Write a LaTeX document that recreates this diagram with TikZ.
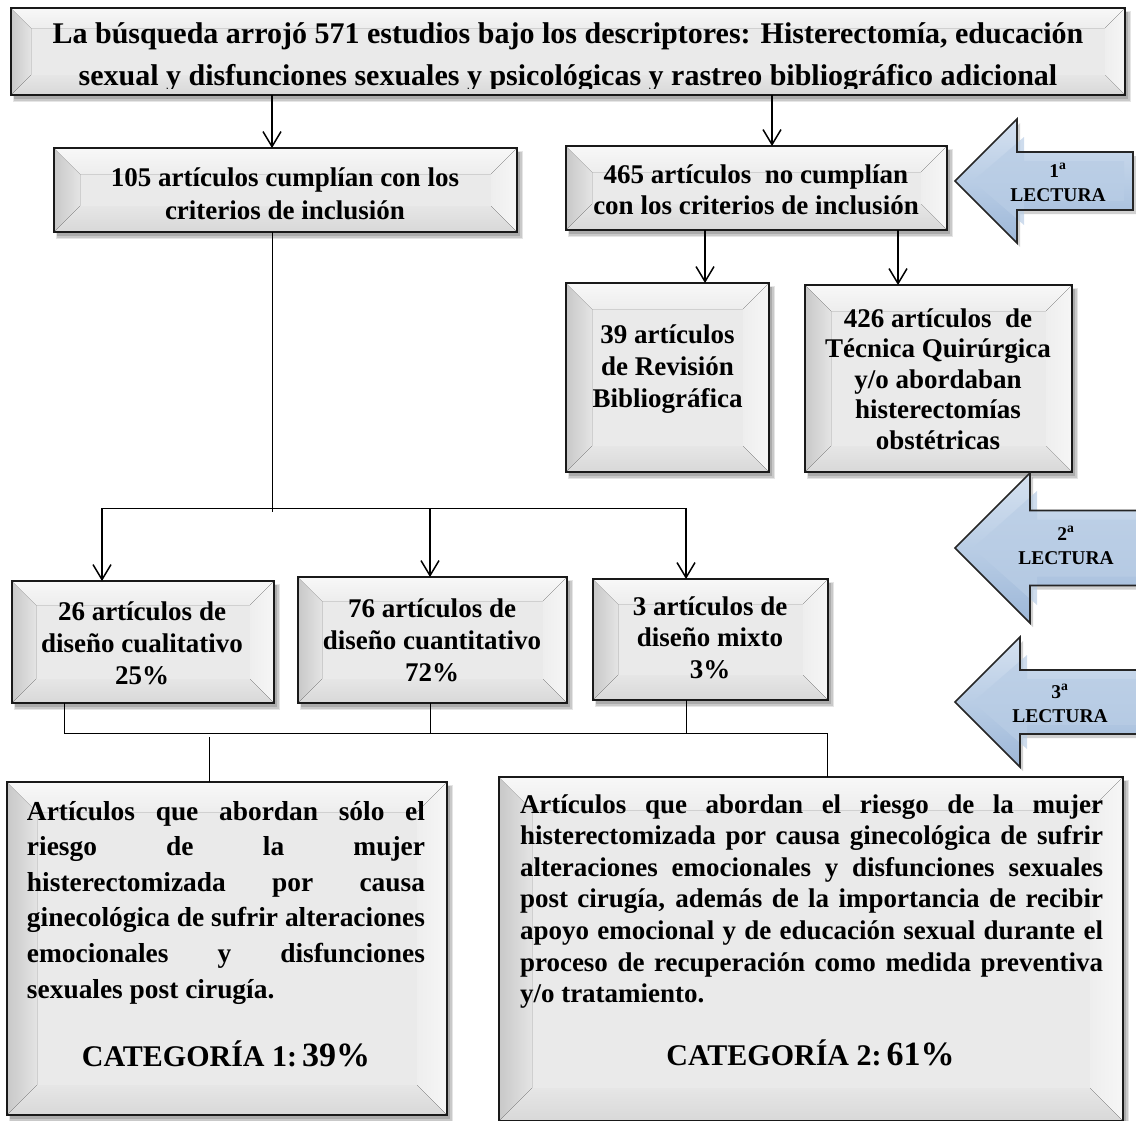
\documentclass[tikz,border=0pt]{standalone}
\usepackage{fontspec}
\setmainfont{Liberation Serif}
\usetikzlibrary{arrows.meta,fit}
\definecolor{face}{HTML}{EAEAEA}
\definecolor{bevLo}{HTML}{C8C8C8}
\definecolor{bevLi}{HTML}{E4E4E4}
\definecolor{bevTo}{HTML}{F8F8F8}
\definecolor{bevTi}{HTML}{EDEDED}
\definecolor{bevRi}{HTML}{EEEEEE}
\definecolor{bevRo}{HTML}{F6F6F6}
\definecolor{bevBi}{HTML}{E6E6E6}
\definecolor{bevBo}{HTML}{D8D8D8}
\definecolor{ablueT}{HTML}{D5E1F0}
\definecolor{ablueM}{HTML}{B9CDE5}
\definecolor{ablueB}{HTML}{9DB7D8}
\newcommand\txtlines[2]{\begin{tabular}[t]{@{}#1@{}}#2\end{tabular}}
\newcommand\jl[2]{\makebox[#1][s]{#2}}
% name, x1, y1, x2, y2, inset
\newcommand\bevbox[6]{%
  \fill[black,opacity=0.10] (#2+2,#3+3) rectangle (#4+6,#5+7);
  \fill[black,opacity=0.12] (#2+3,#3+4) rectangle (#4+4.5,#5+5.5);
  \fill[black,opacity=0.15] (#2+3,#3+4) rectangle (#4+3,#5+4);
  \fill[face] (#2,#3) rectangle (#4,#5);
  \fill[left color=bevLo, right color=bevLi] (#2,#3) -- (#2+#6,#3+#6) -- (#2+#6,#5-#6) -- (#2,#5) -- cycle;
  \fill[top color=bevTo, bottom color=bevTi] (#2,#3) -- (#4,#3) -- (#4-#6,#3+#6) -- (#2+#6,#3+#6) -- cycle;
  \fill[left color=bevRi, right color=bevRo] (#4,#3) -- (#4,#5) -- (#4-#6,#5-#6) -- (#4-#6,#3+#6) -- cycle;
  \fill[top color=bevBi, bottom color=bevBo] (#2,#5) -- (#2+#6,#5-#6) -- (#4-#6,#5-#6) -- (#4,#5) -- cycle;
  \node[boxborder, fit={(#2,#3)(#4,#5)}] (#1) {};
}
% tip x, centre y, head x, head half height, shaft half height, right x
\newcommand\larrow[6]{%
  \fill[black,opacity=0.18] (#1+3,#2+4) -- (#3+3,#2-#4+4) -- (#3+3,#2-#5+4) -- (#6+3,#2-#5+4) -- (#6+3,#2+#5+4) -- (#3+3,#2+#5+4) -- (#3+3,#2+#4+4) -- cycle;
  \fill[top color=ablueT, bottom color=ablueB, middle color=ablueM] (#1,#2) -- (#3,#2-#4) -- (#3,#2-#5) -- (#6,#2-#5) -- (#6,#2+#5) -- (#3,#2+#5) -- (#3,#2+#4) -- cycle;
  \fill[ablueM, opacity=0.7] (#1+18,#2) -- (#3+7,#2-#4+18) -- (#3+7,#2-#5+9) -- (#6-9,#2-#5+9) -- (#6-9,#2+#5-9) -- (#3+7,#2+#5-9) -- (#3+7,#2+#4-18) -- cycle;
  \draw[bluearrow] (#1,#2) -- (#3,#2-#4) -- (#3,#2-#5) -- (#6,#2-#5) -- (#6,#2+#5) -- (#3,#2+#5) -- (#3,#2+#4) -- cycle;
}
\begin{document}
\begin{tikzpicture}[x=1pt,y=-1pt,
  boxborder/.style={draw=black!90, line width=1.8pt, inner sep=0pt, outer sep=0pt},
  txt/.style={inner sep=0pt, outer sep=0pt, anchor=base, text=black},
  arr/.style={line width=1.5pt, -{Straight Barb[length=15pt,width=18pt]}},
  ln/.style={line width=1pt},
  bluearrow/.style={draw=black!85, line width=1.6pt, line join=miter},
  f27/.style={font=\fontsize{27}{#1}\selectfont\bfseries},
  lect/.style={font=\fontsize{19.5}{24}\selectfont\bfseries},
]
\useasboundingbox (0,0) rectangle (1136,1120);

% ---------- boxes ----------
\bevbox{T}{11}{8}{1125}{95}{20}
\bevbox{A}{54}{148}{517}{232}{26}
\bevbox{B}{566}{146}{947}{230}{26}
\bevbox{C}{566}{283}{769}{472}{26}
\bevbox{D}{805}{285}{1072}{472}{26}
\bevbox{E}{12}{581}{274}{703}{24}
\bevbox{F}{298}{577}{567}{703}{24}
\bevbox{G}{593}{579}{828}{700}{25}
\bevbox{H}{7}{782}{447}{1115}{30}
\bevbox{I}{499}{777}{1123}{1121}{33}

% ---------- texts ----------
\begin{scope}
\clip (11,8) rectangle (1125,88);
\node[txt, font=\fontsize{30}{42}\selectfont\bfseries] (Tt) at (568,43) {\txtlines{c}{La búsqueda arrojó 571 estudios bajo los descriptores: Histerectomía, educación\\sexual y disfunciones sexuales y psicológicas y rastreo bibliográfico adicional}};
\end{scope}
\node[txt, f27=33] (At) at (285,186) {\txtlines{c}{105 artículos cumplían con los\\criterios de inclusión}};
\node[txt, f27=31] (Bt) at (756,183) {\txtlines{c}{465 artículos\ \ no cumplían\\con los criterios de inclusión}};
\node[txt, f27=32] (Ct) at (667.5,343) {\txtlines{c}{39 artículos\\de Revisión\\Bibliográfica}};
\node[txt, f27=30.5] (Dt) at (938,327) {\txtlines{c}{426 artículos\ \ de\\Técnica Quirúrgica\\y/o abordaban\\histerectomías\\obstétricas}};
\node[txt, f27=32] (Et) at (142,620) {\txtlines{c}{26 artículos de\\diseño cualitativo\\25\%}};
\node[txt, f27=32] (Ft) at (432,617) {\txtlines{c}{76 artículos de\\diseño cuantitativo\\72\%}};
\node[txt, f27=31.5] (Gt) at (710,615) {\txtlines{c}{3 artículos de\\diseño mixto\\3\%}};
\node[txt, anchor=base west, font=\fontsize{27.4}{35.6}\selectfont\bfseries] (Ht) at (27,820) {\txtlines{l}{%
\jl{398pt}{Artículos que abordan sólo el}\\
\jl{398pt}{riesgo de la mujer}\\
\jl{398pt}{histerectomizada por causa}\\
\jl{398pt}{ginecológica de sufrir alteraciones}\\
\jl{398pt}{emocionales y disfunciones}\\
sexuales post cirugía.}};
\node[txt, font=\fontsize{30}{36}\selectfont\bfseries] (Hc) at (226,1066) {CATEGORÍA 1:\,{\fontsize{34}{36}\selectfont 39\%}};
\node[txt, anchor=base west, font=\fontsize{27}{31.6}\selectfont\bfseries] (It) at (520,813) {\txtlines{l}{%
\jl{583pt}{Artículos que abordan el riesgo de la mujer}\\
\jl{583pt}{histerectomizada por causa ginecológica de sufrir}\\
\jl{583pt}{alteraciones emocionales y disfunciones sexuales}\\
\jl{583pt}{post cirugía, además de la importancia de recibir}\\
\jl{583pt}{apoyo emocional y de educación sexual durante el}\\
\jl{583pt}{proceso de recuperación como medida preventiva}\\
y/o tratamiento.}};
\node[txt, font=\fontsize{30}{36}\selectfont\bfseries] (Ic) at (810.5,1065) {CATEGORÍA 2:\,{\fontsize{34}{36}\selectfont 61\%}};

% ---------- blue arrows ----------
\larrow{955}{181}{1017}{62}{29}{1133}
\larrow{955}{548}{1030}{75}{37.5}{1150}
\larrow{955}{702}{1020}{65}{32}{1150}
\node[txt, lect] (L1) at (1058,177) {\txtlines{c}{1\textsuperscript{a}\\LECTURA}};
\node[txt, lect] (L2) at (1066,540) {\txtlines{c}{2\textsuperscript{a}\\LECTURA}};
\node[txt, lect] (L3) at (1060,698) {\txtlines{c}{3\textsuperscript{a}\\LECTURA}};

% ---------- connectors ----------
\draw[arr] (272,0 |- T.south) -- (272,0 |- A.north);
\draw[arr] (772,0 |- T.south) -- (772,0 |- B.north);
\draw[arr] (705,0 |- B.south) -- (705,0 |- C.north);
\draw[arr] (898,0 |- B.south) -- (898,0 |- D.north);
\coordinate (j1) at (272,512);
\coordinate (hl) at (102,508);
\coordinate (hm) at (430,508);
\coordinate (hr) at (686,508);
\draw[ln] (272,0 |- A.south) -- (j1);
\draw[ln] (hl) -- (hr);
\draw[arr] (hl) -- (hl |- E.north);
\draw[arr] (hm) -- (hm |- F.north);
\draw[arr] (hr) -- (hr |- G.north);
\coordinate (bl) at (64,733);
\coordinate (bm) at (430,733);
\coordinate (bg) at (686,733);
\coordinate (br) at (827,733);
\coordinate (bh) at (209,737);
\draw[ln] (bl |- E.south) -- (bl) -- (br) -- (br |- I.north);
\draw[ln] (bm |- F.south) -- (bm);
\draw[ln] (bg |- G.south) -- (bg);
\draw[ln] (bh) -- (bh |- H.north);
\end{tikzpicture}
\end{document}
